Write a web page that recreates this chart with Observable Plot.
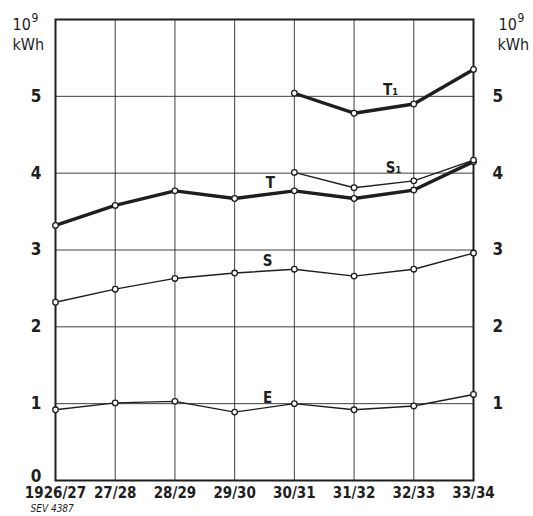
<!DOCTYPE html>
<html><head><meta charset="utf-8">
<script src="https://cdn.jsdelivr.net/npm/d3@7"></script>
<script src="https://cdn.jsdelivr.net/npm/@observablehq/plot@0.6"></script>
<style>
html,body{margin:0;padding:0;background:#fff;}
</style>
</head><body>
<div id="chart"></div>
<script>
const years = ["1926/27","27/28","28/29","29/30","30/31","31/32","32/33","33/34"];
const T  = [3.32, 3.58, 3.77, 3.67, 3.77, 3.67, 3.78, 4.15];
const S  = [2.32, 2.49, 2.63, 2.70, 2.75, 2.66, 2.75, 2.96];
const E  = [0.92, 1.01, 1.03, 0.89, 1.00, 0.92, 0.97, 1.12];
const T1 = [null, null, null, null, 5.04, 4.78, 4.90, 5.35];
const S1 = [null, null, null, null, 4.01, 3.81, 3.90, 4.17];
const yTicks = [1, 2, 3, 4, 5];
const seriesLabels = [
  {text: "T₁", x: 5.61, y: 5.08},
  {text: "S₁", x: 5.66, y: 4.07},
  {text: "T",  x: 3.6,  y: 3.87},
  {text: "S",  x: 3.55, y: 2.85},
  {text: "E",  x: 3.55, y: 1.07}
];

function toRows(name, vals){ return vals.map((v,i)=>({series:name, i, v})).filter(d=>d.v!=null); }
const thick = [...toRows("T",T), ...toRows("T1",T1)];
const thin = [...toRows("S",S), ...toRows("E",E), ...toRows("S1",S1)];
const all = [...thick, ...thin];

const ink = "#1e1e1e";
const font = "'DejaVu Sans Condensed', 'DejaVu Sans', sans-serif";

const chart = Plot.plot({
  width: 533, height: 516,
  marginLeft: 55, marginRight: 60, marginTop: 19, marginBottom: 36,
  style: {fontFamily: font, background: "#fff", color: ink},
  x: {type: "linear", domain: [0, years.length - 1], axis: null},
  y: {domain: [0, 6], axis: null},
  marks: [
    Plot.gridX(d3.range(years.length), {stroke: ink, strokeOpacity: 0.85, strokeWidth: 1}),
    Plot.gridY(yTicks, {stroke: ink, strokeOpacity: 0.85, strokeWidth: 1}),
    Plot.frame({stroke: ink, strokeWidth: 2}),
    Plot.axisY(yTicks, {anchor: "left", tickSize: 0, tickPadding: 14, fontSize: 17, fontWeight: "bold", tickFormat: d => d, fill: ink}),
    Plot.text([0], {x: 0, y: d => d, dx: -14, dy: -4, textAnchor: "end", fontSize: 17, fontWeight: "bold", fill: ink}),
    Plot.axisY(yTicks, {anchor: "right", tickSize: 0, tickPadding: 19, fontSize: 17, fontWeight: "bold", tickFormat: d => d, fill: ink}),
    Plot.axisX(d3.range(years.length), {anchor: "bottom", tickSize: 0, tickPadding: 7, fontSize: 15, fontWeight: "bold", tickFormat: i => years[i], fill: ink}),
    Plot.line(thick, {x: "i", y: "v", z: "series", stroke: ink, strokeWidth: 3.4, strokeLinejoin: "round"}),
    Plot.line(thin, {x: "i", y: "v", z: "series", stroke: ink, strokeWidth: 1.4}),
    Plot.dot(all, {x: "i", y: "v", r: 2.8, fill: "#fff", stroke: ink, strokeWidth: 1.3}),
    Plot.text(seriesLabels, {x: "x", y: "y", text: "text", fontSize: 15, fontWeight: "bold", fill: ink}),
    Plot.text(["10"], {frameAnchor: "top-left", dx: -43, dy: -1, fontSize: 16, textAnchor: "start", fill: ink}),
    Plot.text(["9"], {frameAnchor: "top-left", dx: -24, dy: -6, fontSize: 12, textAnchor: "start", fill: ink}),
    Plot.text(["kWh"], {frameAnchor: "top-left", dx: -43, dy: 19, fontSize: 16, textAnchor: "start", fill: ink}),
    Plot.text(["10"], {frameAnchor: "top-right", dx: 25, dy: -1, fontSize: 16, textAnchor: "start", fill: ink}),
    Plot.text(["9"], {frameAnchor: "top-right", dx: 44, dy: -6, fontSize: 12, textAnchor: "start", fill: ink}),
    Plot.text(["kWh"], {frameAnchor: "top-right", dx: 24, dy: 19, fontSize: 16, textAnchor: "start", fill: ink}),
    Plot.text(["SEV 4387"], {frameAnchor: "bottom-left", dx: -25, dy: 31, fontSize: 10, fontStyle: "italic", textAnchor: "start", fill: ink})
  ]
});
document.getElementById("chart").appendChild(chart);
</script>
</body></html>
